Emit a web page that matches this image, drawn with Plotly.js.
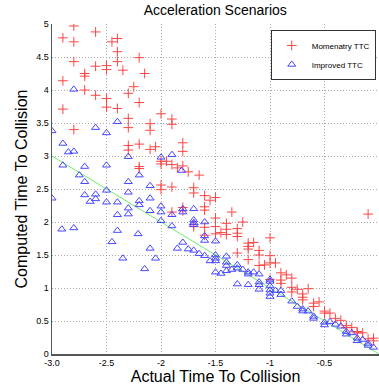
<!DOCTYPE html>
<html><head><meta charset="utf-8">
<script src="https://cdn.plot.ly/plotly-3.0.1.min.js"></script>
<style>html,body{margin:0;padding:0;background:#fff;overflow:hidden}</style>
</head><body><div id="chart" style="width:379px;height:385px"></div>
<script>
const momentaryX = [-2.80,-2.90,-2.60,-2.80,-2.45,-2.40,-2.40,-2.20,-2.80,-2.40,-2.60,-2.50,-2.50,-2.70,-2.70,-2.35,-2.15,-2.90,-2.25,-2.70,-2.30,-2.60,-2.50,-2.50,-2.40,-2.20,-2.90,-2.30,-2.10,-2.10,-2.30,-2.80,-2.00,-2.30,-2.30,-2.20,-2.10,-2.05,-2.20,-2.20,
-1.90,-1.90,-1.80,-1.80,-2.00,-2.00,-1.95,-1.90,-1.85,-1.80,-1.75,-1.65,-2.00,-2.00,-1.90,-1.70,-1.70,-1.60,-1.50,-1.55,
-1.90,-1.80,-1.80,-1.70,-1.70,-1.60,-1.60,-1.60,-1.60,-1.50,-1.50,-1.50,-1.45,-1.40,-1.40,-1.40,-1.35,-1.25,-1.30,-1.30,-1.30,-1.20,-1.20,-1.20,-1.15,-1.10,-1.10,-1.30,-1.20,-1.10,-1.05,-1.00,-1.00,-1.00,-0.95,-1.00,
-0.90,-0.85,-0.90,-0.90,-0.80,-0.80,-0.80,-0.75,-0.70,-0.70,-0.70,-0.65,-0.60,-0.60,-0.55,-0.50,-0.50,-0.45,-0.40,-0.35,-0.30,-0.30,-0.25,-0.20,-0.20,-0.15,-0.10,-0.05,-0.10,-0.05];
const momentaryY = [4.97,4.79,4.88,4.73,4.73,4.78,4.58,4.49,4.43,4.43,4.36,4.37,4.31,4.25,4.21,4.30,4.25,4.14,4.05,4.00,3.95,3.92,3.87,3.74,3.72,3.81,3.71,3.57,3.49,3.39,3.43,3.40,3.64,3.16,3.09,3.18,3.10,3.14,2.84,2.81,
3.56,3.48,3.20,3.07,2.92,2.88,2.92,2.87,2.82,2.85,2.76,2.71,2.56,2.49,2.53,2.52,2.44,2.40,2.37,2.33,
2.15,2.22,2.17,1.96,1.93,2.23,2.18,1.92,1.80,2.06,1.93,1.82,1.84,1.98,1.89,1.81,2.15,2.00,1.90,1.83,1.78,1.68,1.63,1.59,1.69,1.57,1.50,1.53,1.43,1.34,1.35,1.76,1.49,1.38,1.38,1.13,
1.23,1.20,1.12,1.07,1.15,1.01,0.94,0.98,0.91,0.86,0.82,0.99,0.77,0.72,0.79,0.65,0.62,0.62,0.54,0.51,0.43,0.40,0.40,0.34,0.32,0.32,0.23,0.24,2.12,0.20];

const improvedX = [-2.80,-3.00,-2.90,-2.85,-2.80,-2.90,-2.70,-2.75,-2.70,-2.60,-2.50,-2.40,-2.50,-2.30,-2.20,-2.30,-2.10,-2.00,-1.90,-1.81,
-3.00,-2.91,-2.80,-2.70,-2.65,-2.60,-2.60,-2.50,-2.50,-2.40,-2.40,-2.40,-2.45,-2.35,-2.30,-2.30,-2.30,-2.20,-2.20,-2.21,-2.15,-2.10,-2.10,-2.10,-2.05,-2.00,-2.00,-2.00,-1.90,-1.90,-1.85,-1.80,-1.80,-1.80,-1.75,-1.70,-1.70,-1.70,-1.70,-1.70,-1.65,-1.60,-1.60,-1.60,-1.60,-1.55,
-1.50,-1.50,-1.50,-1.50,-1.50,-1.45,-1.40,-1.40,-1.40,-1.40,-1.35,-1.30,-1.30,-1.30,-1.25,-1.20,-1.20,-1.15,-1.20,-1.10,-1.10,-1.10,-1.10,-1.00,-1.00,-1.00,-1.00,-1.00,-1.00,-0.95,-0.90,-0.90,
-0.80,-0.75,-0.70,-0.70,-0.65,-0.60,-0.60,-0.50,-0.50,-0.45,-0.40,-0.35,-0.30,-0.30,-0.25,-0.20,-0.20,-0.15,-0.10,-0.10,-0.05];
const improvedY = [4.01,3.38,3.19,3.06,3.07,2.86,2.84,2.71,2.61,3.43,3.35,3.52,2.86,2.99,2.71,2.61,2.55,2.98,3.02,2.78,
2.36,1.89,1.91,2.41,2.31,2.42,2.35,2.48,2.30,2.30,2.11,1.87,1.70,1.45,2.45,2.21,2.12,2.32,2.26,1.82,1.29,2.36,2.17,1.60,1.45,2.24,2.15,2.02,2.11,1.94,1.60,1.69,2.20,2.15,1.59,2.20,2.03,1.99,1.96,1.57,1.52,2.00,1.79,1.72,1.49,1.41,
1.71,1.50,1.45,1.41,1.24,1.22,1.48,1.39,1.34,1.26,1.28,1.35,1.30,1.06,1.28,1.24,1.21,1.24,1.05,1.21,1.09,1.05,0.98,1.13,1.10,1.03,0.97,0.92,0.87,0.96,0.96,0.90,
0.80,0.72,0.68,0.65,0.65,0.57,0.54,0.48,0.44,0.49,0.45,0.42,0.34,0.30,0.32,0.24,0.20,0.22,0.16,0.13,0.10];

const idealX = [-3, 0];
const idealY = [3, 0];

const xTickVals = [-3, -2.5, -2, -1.5, -1, -0.5, 0];
const xTickText = ['-3.0', '-2.5', '-2', '-1.5', '-1', '-0.5', '0'];
const yTickVals = [0, 0.5, 1, 1.5, 2, 2.5, 3, 3.5, 4, 4.5, 5];
const yTickText = ['0', '0.5', '1', '1.5', '2', '2.5', '3', '3.5', '4', '4.5', '5'];

const RED = 'rgb(255,70,70)';
const BLUE = 'rgb(70,70,255)';

const traces = [
  {x: idealX, y: idealY, mode: 'lines', line: {color: 'rgb(110,235,110)', width: 1}, showlegend: false, hoverinfo: 'skip'},
  {x: momentaryX, y: momentaryY, mode: 'markers', name: 'Momenatry TTC',
   marker: {symbol: 'cross-thin-open', size: 7, color: RED, line: {color: RED, width: 1}}},
  {x: improvedX, y: improvedY, mode: 'markers', name: 'Improved TTC',
   marker: {symbol: 'triangle-up-open', size: 7, color: BLUE, line: {color: BLUE, width: 1}}}
];

const axisCommon = {
  showgrid: true, gridcolor: '#a8a8a8', griddash: '1px,2px', gridwidth: 1,
  zeroline: false, showline: true, linecolor: '#555', linewidth: 1.5,
  ticks: '', tickfont: {family: 'Liberation Sans, Arial, sans-serif', size: 9, color: '#000'},
  automargin: false, fixedrange: true
};

const layout = {
  width: 379, height: 385,
  margin: {l: 52, r: 0, t: 24, b: 31},
  paper_bgcolor: '#fff', plot_bgcolor: '#fff',
  title: {text: 'Acceleration Scenarios', x: 0.568, xanchor: 'center', y: 0.975, yanchor: 'middle',
          font: {family: 'Liberation Sans, Arial, sans-serif', size: 14, color: '#000'}},
  xaxis: Object.assign({}, axisCommon, {
    range: [-3, 0], tickmode: 'array', tickvals: xTickVals, ticktext: xTickText,
    title: {text: 'Actual Time To Collision', standoff: 2, font: {family: 'Liberation Sans, Arial, sans-serif', size: 16, color: '#000'}}
  }),
  yaxis: Object.assign({}, axisCommon, {
    range: [0, 5], tickmode: 'array', tickvals: yTickVals, ticktext: yTickText,
    title: {text: 'Computed Time To Collision', standoff: 4, font: {family: 'Liberation Sans, Arial, sans-serif', size: 16, color: '#000'}}
  }),
  legend: {x: 0.99, y: 0.982, xanchor: 'right', yanchor: 'top', bgcolor: '#fff',
           bordercolor: '#333', borderwidth: 1, itemwidth: 30, tracegroupgap: 0,
           font: {family: 'Liberation Sans, Arial, sans-serif', size: 8, color: '#000'}},
  showlegend: true
};

Plotly.newPlot('chart', traces, layout, {displayModeBar: false, staticPlot: true});
</script>
</body></html>
